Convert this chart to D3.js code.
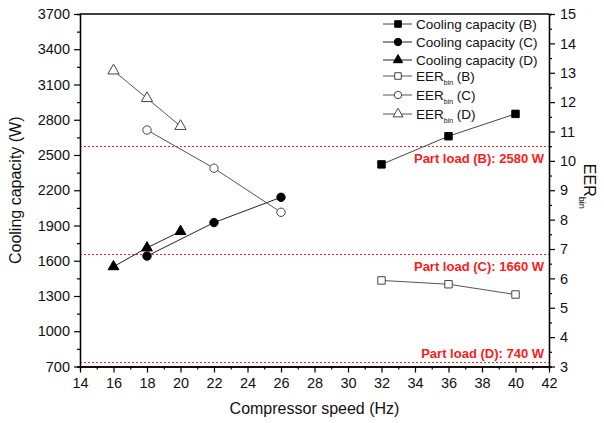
<!DOCTYPE html>
<html>
<head>
<meta charset="utf-8">
<script src="https://d3js.org/d3.v7.min.js"></script>
<style>
  body { margin: 0; background: #fff; }
  text { font-family: Arial, "Liberation Sans", sans-serif; }
</style>
</head>
<body>
<svg width="604" height="423"></svg>
<script>
// data
var speedB = [32, 36, 40],
    speedC = [18, 22, 26],
    speedD = [16, 18, 20];
var capB = [2420, 2660, 2850],
    capC = [1640, 1925, 2140],
    capD = [1550, 1710, 1850];
var eerB = [5.93, 5.8, 5.45],
    eerC = [11.05, 9.75, 8.25],
    eerD = [13.07, 12.13, 11.18];
var partLoads = [2580, 1660, 740];
var partLabels = ["Part load (B): 2580 W", "Part load (C): 1660 W", "Part load (D): 740 W"];
var xTicks = d3.range(14, 43, 2);
var yTicks = d3.range(700, 3701, 300);
var y2Ticks = d3.range(3, 16, 1);

var svg = d3.select("svg");
svg.append("rect").attr("width", 604).attr("height", 423).attr("fill", "#fff");

var pLeft = 80, pRight = 549, pTop = 14, pBottom = 366.5;

var x = d3.scaleLinear().domain([14, 42]).range([pLeft, pRight]);
var y = d3.scaleLinear().domain([700, 3700]).range([pBottom, pTop]);
var y2 = d3.scaleLinear().domain([3, 15]).range([pBottom, pTop]);

// part load reference lines
partLoads.forEach(function(v, i) {
  var yy = Math.round(y(v)) + 0.5;
  svg.append("line")
      .attr("x1", pLeft).attr("x2", pRight)
      .attr("y1", yy).attr("y2", yy)
      .attr("stroke", "#ff2020").attr("stroke-width", 1)
      .attr("stroke-dasharray", "2,2");
  svg.append("text")
      .attr("x", 544)
      .attr("y", i == 2 ? yy - 5 : yy + 16.5)
      .attr("text-anchor", "end")
      .attr("font-size", 13).attr("font-weight", "bold")
      .attr("fill", "#ff1a1a")
      .text(partLabels[i]);
});

// frame
svg.append("line").attr("x1", pLeft).attr("x2", pRight).attr("y1", pTop).attr("y2", pTop)
    .attr("stroke", "#000").attr("stroke-width", 1.3);

function styleAxis(g, size) {
  g.attr("font-size", size).attr("font-family", "Arial, 'Liberation Sans', sans-serif");
  g.selectAll("path").attr("stroke", "#000").attr("stroke-width", 1.3);
  g.selectAll("line").attr("stroke", "#000").attr("stroke-width", 1.2);
  g.selectAll("text").attr("fill", "#111");
}

// minor ticks first
svg.append("g").attr("transform", "translate(0," + pBottom + ")")
    .call(d3.axisBottom(x).tickValues(d3.range(15, 42, 2)).tickSize(3).tickFormat(""))
    .call(styleAxis, 14);
svg.append("g").attr("transform", "translate(" + pLeft + ",0)")
    .call(d3.axisLeft(y).tickValues(d3.range(850, 3700, 300)).tickSize(3).tickFormat(""))
    .call(styleAxis, 14);
svg.append("g").attr("transform", "translate(" + pRight + ",0)")
    .call(d3.axisRight(y2).tickValues(d3.range(3.5, 15, 1)).tickSize(3).tickFormat(""))
    .call(styleAxis, 14);

svg.append("g").attr("transform", "translate(0," + pBottom + ")")
    .call(d3.axisBottom(x).tickValues(xTicks).tickSize(6).tickPadding(5).tickSizeOuter(0))
    .call(styleAxis, 14.5);
svg.append("g").attr("transform", "translate(" + pLeft + ",0)")
    .call(d3.axisLeft(y).tickValues(yTicks).tickFormat(d3.format("d")).tickSize(6).tickPadding(4).tickSizeOuter(0))
    .call(styleAxis, 14.5);
svg.append("g").attr("transform", "translate(" + pRight + ",0)")
    .call(d3.axisRight(y2).tickValues(y2Ticks).tickSize(6).tickPadding(5).tickSizeOuter(0))
    .call(styleAxis, 14.5);

// axis titles
svg.append("text")
    .attr("x", (pLeft + pRight) / 2).attr("y", 414)
    .attr("text-anchor", "middle").attr("font-size", 16).attr("fill", "#111")
    .text("Compressor speed (Hz)");
svg.append("text")
    .attr("transform", "translate(21," + ((pTop + pBottom) / 2) + ") rotate(-90)")
    .attr("text-anchor", "middle").attr("font-size", 16).attr("fill", "#111")
    .text("Cooling capacity (W)");
var t2 = svg.append("text")
    .attr("transform", "translate(584," + ((pTop + pBottom) / 2 - 4) + ") rotate(90)")
    .attr("text-anchor", "middle").attr("font-size", 16).attr("fill", "#111");
t2.append("tspan").text("EER");
t2.append("tspan").attr("font-size", 9).attr("dy", 5).text("bin");

// markers
function marker(sel, shape, filled, size) {
  var sym = {square: d3.symbolSquare, circle: d3.symbolCircle, triangle: d3.symbolTriangle}[shape];
  sel.attr("d", d3.symbol().type(sym).size(size))
      .attr("fill", filled ? "#000" : "#fff")
      .attr("stroke", filled ? "#000" : "#444")
      .attr("stroke-width", 1);
}

var series = [
  {xs: speedB, ys: capB, sc: y,  shape: "square",   filled: true,  size: 55, lc: "#444"},
  {xs: speedC, ys: capC, sc: y,  shape: "circle",   filled: true,  size: 55, lc: "#222"},
  {xs: speedD, ys: capD, sc: y,  shape: "triangle", filled: true,  size: 50, lc: "#222"},
  {xs: speedB, ys: eerB, sc: y2, shape: "square",   filled: false, size: 55, lc: "#555"},
  {xs: speedC, ys: eerC, sc: y2, shape: "circle",   filled: false, size: 55, lc: "#555"},
  {xs: speedD, ys: eerD, sc: y2, shape: "triangle", filled: false, size: 55, lc: "#555"}
];

series.forEach(function(s) {
  var pts = s.xs.map(function(v, i) { return [v, s.ys[i]]; });
  svg.append("path")
      .datum(pts)
      .attr("fill", "none").attr("stroke", s.lc).attr("stroke-width", 1)
      .attr("d", d3.line().x(function(d) { return x(d[0]); }).y(function(d) { return s.sc(d[1]); }));
  svg.selectAll(null)
      .data(pts)
      .enter().append("path")
      .attr("transform", function(d) { return "translate(" + x(d[0]) + "," + s.sc(d[1]) + ")"; })
      .call(marker, s.shape, s.filled, s.size);
});

// legend
var legendNames = ["Cooling capacity (B)", "Cooling capacity (C)", "Cooling capacity (D)", "B", "C", "D"];
var legendY = [24, 42, 60, 76, 95, 114];
series.forEach(function(s, i) {
  var g = svg.append("g").attr("transform", "translate(0," + legendY[i] + ")");
  g.append("line").attr("x1", 383).attr("x2", 412).attr("y1", 0).attr("y2", 0)
      .attr("stroke", s.lc).attr("stroke-width", 1);
  g.append("path").attr("transform", "translate(398,0)")
      .call(marker, s.shape, s.filled, s.size - 12);
  var t = g.append("text").attr("x", 416).attr("y", 5).attr("font-size", 13.5).attr("fill", "#111");
  if (i < 3) {
    t.text(legendNames[i]);
  } else {
    t.append("tspan").text("EER");
    t.append("tspan").attr("font-size", 7).attr("dy", 4).text("bin");
    t.append("tspan").attr("dy", -4).text(" (" + legendNames[i] + ")");
  }
});
</script>
</body>
</html>
